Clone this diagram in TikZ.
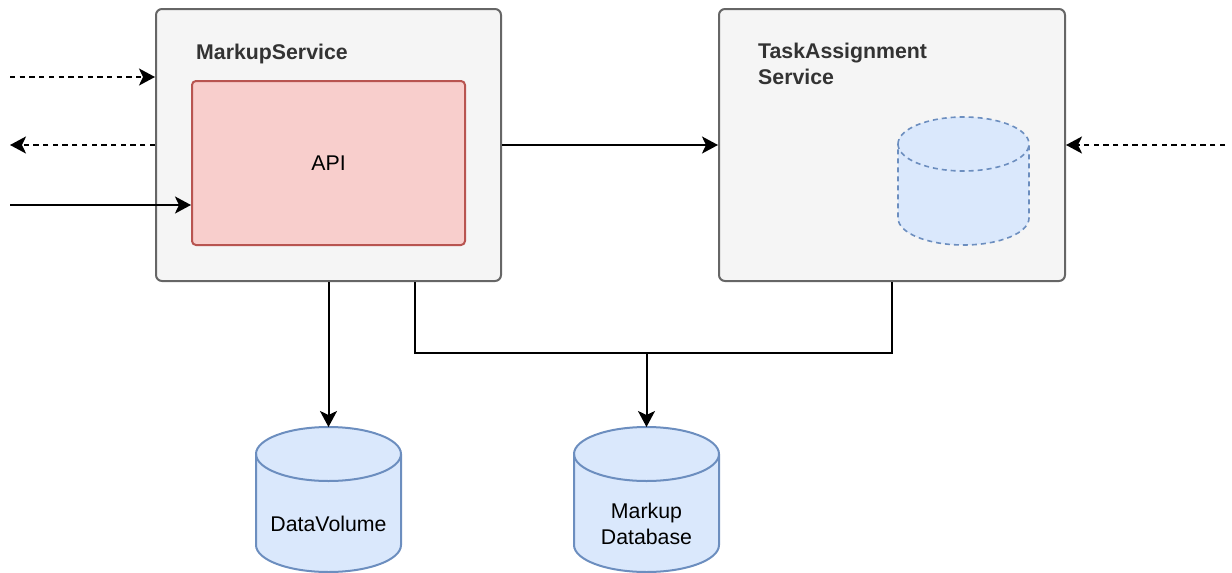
\documentclass[tikz,border=0pt]{standalone}
\usepackage{fontspec}
\setmainfont{Liberation Sans}
\usetikzlibrary{arrows.meta}
\definecolor{boxfill}{HTML}{F5F5F5}
\definecolor{boxline}{HTML}{666666}
\definecolor{boxtext}{HTML}{333333}
\definecolor{apifill}{HTML}{F8CECC}
\definecolor{apiline}{HTML}{B85450}
\definecolor{dbfill}{HTML}{DAE8FC}
\definecolor{dbline}{HTML}{6C8EBF}
\tikzset{
  svc/.style={draw=boxline, fill=boxfill, line width=2pt, rounded corners=6pt, inner sep=0pt},
  apibox/.style={draw=apiline, fill=apifill, line width=2pt, rounded corners=4pt, inner sep=0pt,
    font=\fontsize{21.3}{25.5}\selectfont},
  svclabel/.style={text=boxtext, font=\fontsize{21.3}{25.5}\selectfont\bfseries, inner sep=0pt},
  dblabel/.style={font=\fontsize{21.3}{25.5}\selectfont, align=center, inner sep=0pt},
  conn/.style={line width=2pt, -{Stealth[length=16pt, width=17pt, inset=4pt]}},
  dconn/.style={conn, dash pattern=on 5.3pt off 4.4pt},
  anchorbox/.style={inner sep=0pt, outer sep=0pt, draw=none, fill=none},
}
\newcommand{\mycyl}[7]{% name, cx, top, width, height, ry, style
  \node[anchorbox, minimum width=#4pt, minimum height=#5pt] (#1) at (#2, #3+#5/2) {};
  \path[#7] (#2-#4/2, #3+#6) arc[start angle=180, end angle=360, x radius=#4/2, y radius=#6]
     -- (#2+#4/2, #3+#5-#6) arc[start angle=0, end angle=180, x radius=#4/2, y radius=#6] -- cycle;
  \path[#7, fill=none] (#2-#4/2, #3+#6) arc[start angle=180, end angle=0, x radius=#4/2, y radius=#6];
}
\begin{document}
\begin{tikzpicture}[x=1pt, y=-1pt]
\useasboundingbox (0,0) rectangle (1232,573);

% services
\node[svc, minimum width=345pt, minimum height=272pt] (ms) at (328.5,145) {};
\node[svc, minimum width=346pt, minimum height=272pt] (ta) at (892,145) {};
\node[apibox, minimum width=273pt, minimum height=164pt] (api) at (328.5,163) {API};

\node[svclabel, anchor=base west] (mslbl) at (196,59) {MarkupService};
\node[svclabel, anchor=base west, align=left] (talbl) at (758,84)
  {TaskAssignment\\Service};

% cylinders
\mycyl{tadb}{963.5}{117}{131}{128}{27}{draw=dbline, fill=dbfill, line width=1.6pt, dash pattern=on 5pt off 4pt}
\mycyl{dv}{328.5}{427}{145}{145}{27}{draw=dbline, fill=dbfill, line width=2pt}
\mycyl{mdb}{646.5}{427}{145}{145}{27}{draw=dbline, fill=dbfill, line width=2pt}
\node[dblabel] (dvlbl) at (328.5,524) {DataVolume};
\node[dblabel] (mdblbl) at (646.5,524) {Markup\\Database};

% free ends
\coordinate (in1) at (10,77);
\coordinate (out1) at (10,145);
\coordinate (in2) at (10,205);
\coordinate (in3) at (1225,145);
\coordinate (j1) at (415,353);

% connectors
\draw[dconn] (in1) -- (in1 -| ms.west);
\draw[dconn] (ms.west) -- (out1);
\draw[conn] (in2) -- (in2 -| api.west);
\draw[conn] (ms.east) -- (ta.west);
\draw[dconn] (in3) -- (ta.east);
\draw[conn] (ms.south) -- (dv.north);
\draw[line width=2pt] (j1 |- ms.south) -- (j1) -- (j1 -| ta.south) -- (ta.south);
\draw[conn] (mdb.north |- j1) -- (mdb.north);
\end{tikzpicture}
\end{document}
